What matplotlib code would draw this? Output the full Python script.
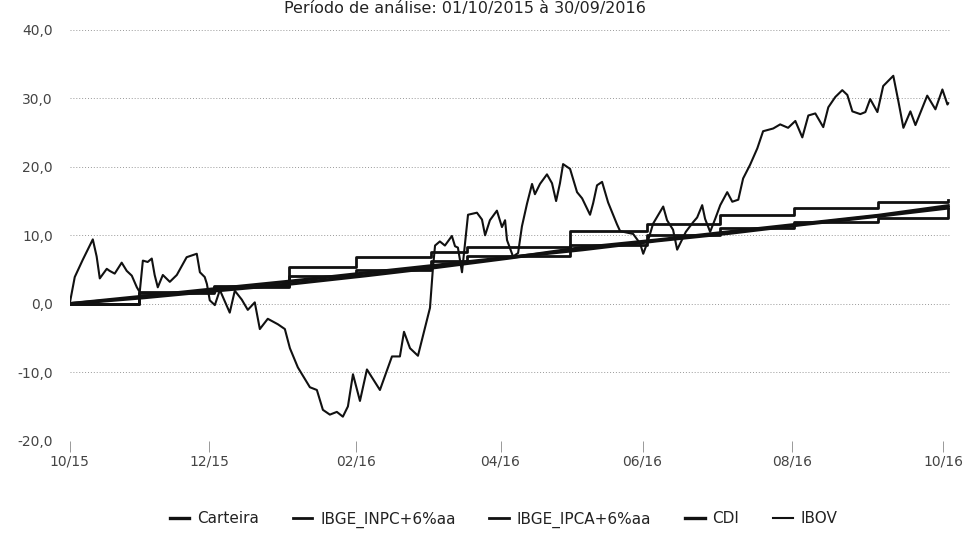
import numpy as np
import matplotlib.pyplot as plt

# dias desde 01/10/2015
ibov_dias = [0, 2.1, 5.4, 9.6, 11.2, 12.5, 15.4, 16.6, 18.7, 21.6, 23.7, 25.8, 27.9, 29.1,
             30.4, 32.4, 34.1, 35.3, 36.6, 38.7, 41.6, 44.5, 48.6, 52.8, 54.1, 56.1, 57,
             58.2, 60.3, 62.4, 64.4, 66.5, 68.6, 71.5, 74, 76.9, 79, 82.3, 86.5, 89.4,
             91.5, 94.8, 99.8, 102.7, 105.2, 108.1, 111, 113.5, 115.6, 117.7, 120.6,
             123.5, 128.9, 133.9, 137.2, 138.9, 141.4, 144.7, 149.7, 150.9, 151.8, 153.8,
             155.9, 158.8, 160.1, 161.3, 163, 165.5, 169.2, 171.3, 172.6, 174.6, 177.5,
             179.6, 180.9, 181.7, 184.2, 186.3, 187.9, 190, 192.1, 193.3, 195.4, 198.3,
             200.4, 202.1, 203.7, 205, 207.9, 210.8, 212.9, 216.2, 217.5, 219.1, 221.2,
             223.7, 227.4, 228.7, 234.1, 237, 238.3, 240.3, 242.4, 246.6, 248.2, 250.7,
             252.4, 256, 259, 260.7, 262.8, 264, 266.1, 268.2, 270.3, 273.2, 275.3,
             277.8, 279.8, 282.7, 285.7, 288.1, 292.3, 295.2, 298.5, 301.5, 304.4,
             306.9, 309.8, 313.1, 315.2, 318.1, 321, 323.1, 325.2, 328.5, 330.6, 332.6,
             335.6, 338, 342.2, 344.3, 346.4, 349.3, 351.4, 356.3, 359.7, 362.6, 364.7, 365]
ibov = [0, 3.9, 6.4, 9.4, 6.9, 3.7, 5.1, 4.8, 4.4, 6.0, 4.8, 4.1, 2.4, 1.7,
        6.3, 6.1, 6.6, 4.2, 2.4, 4.2, 3.2, 4.2, 6.8, 7.3, 4.6, 3.9, 2.9,
        0.5, -0.2, 2.0, 0.4, -1.3, 1.9, 0.6, -0.9, 0.2, -3.7, -2.2, -3.0, -3.7,
        -6.5, -9.3, -12.2, -12.6, -15.5, -16.2, -15.8, -16.5, -15.0, -10.3, -14.2,
        -9.6, -12.6, -7.7, -7.7, -4.1, -6.5, -7.6, -0.6, 5.1, 8.5, 9.1,
        8.5, 9.9, 8.4, 8.2, 4.6, 13.0, 13.3, 12.3, 10.0, 12.2, 13.6,
        11.2, 12.2, 9.3, 6.9, 7.4, 11.3, 14.6, 17.5, 16.0, 17.5, 18.9,
        17.6, 15.0, 17.6, 20.4, 19.7, 16.3, 15.4, 13.0, 14.7, 17.3, 17.8,
        14.8, 11.6, 10.6, 10.2, 8.8, 7.3, 9.2, 11.7, 14.2, 12.2, 10.8,
        7.9, 10.5, 11.9, 12.6, 14.4, 12.4, 10.5, 12.4, 14.4, 16.3, 14.9,
        15.2, 18.3, 20.3, 22.7, 25.2, 25.6, 26.2, 25.7, 26.7, 24.3,
        27.5, 27.8, 25.8, 28.7, 30.2, 31.2, 30.5, 28.1, 27.7, 28.0, 29.9,
        28.0, 31.8, 33.3, 29.6, 25.7, 28.1, 26.1, 30.4, 28.4, 31.3, 29.1, 29.3]

degrau_dias = [0, 29, 60, 91, 119, 150, 165, 208, 240, 270, 301, 336, 365]
inpc = [0.0, 1.7, 2.6, 5.4, 6.8, 7.6, 8.3, 10.6, 11.6, 12.9, 14.0, 14.8, 15.2]
ipca = [0.0, 1.5, 2.4, 4.0, 5.0, 6.2, 7.0, 8.6, 10.0, 11.0, 11.9, 12.5, 13.8]

mes_dias = [0, 31, 61, 92, 123, 152, 183, 213, 244, 274, 305, 336, 365]
cdi = [0.0, 1.1, 2.2, 3.3, 4.5, 5.6, 6.8, 7.9, 9.2, 10.3, 11.6, 12.8, 14.0]
carteira = [0.0, 0.9, 1.9, 2.9, 4.1, 5.3, 6.7, 8.2, 9.3, 10.5, 11.7, 12.9, 14.3]

tick_dias = [0, 58, 119, 179, 238, 300, 363]
tick_txt = ['10/15', '12/15', '02/16', '04/16', '06/16', '08/16', '10/16']
y_ticks = [-20, -10, 0, 10, 20, 30, 40]

cor = '#111111'

fig = plt.figure(figsize=(9.68, 5.44), dpi=100)
ax = fig.add_axes([0.072, 0.19, 0.91, 0.755])

ax.plot(mes_dias, carteira, color=cor, lw=2.4, label='Carteira')
ax.plot(degrau_dias, inpc, color=cor, lw=2.0, drawstyle='steps-post', label='IBGE_INPC+6%aa')
ax.plot(degrau_dias, ipca, color=cor, lw=2.0, drawstyle='steps-post', label='IBGE_IPCA+6%aa')
ax.plot(mes_dias, cdi, color=cor, lw=2.4, label='CDI')
ax.plot(ibov_dias, ibov, color=cor, lw=1.5, label='IBOV')

ax.set_xlim(0, 366)
ax.set_ylim(-20, 40)
ax.set_yticks(y_ticks)
ax.set_yticklabels([('%.1f' % v).replace('.', ',') for v in y_ticks])
ax.set_xticks(tick_dias)
ax.set_xticklabels(tick_txt)
ax.grid(axis='y', color='#999999', lw=0.7, linestyle=(0, (1, 2)))
for s in ax.spines.values():
    s.set_visible(False)
ax.tick_params(axis='y', length=0, pad=12, labelsize=10, labelcolor='#444444')
ax.tick_params(axis='x', length=8, width=0.7, color='#999999', pad=2, labelsize=10, labelcolor='#444444')

fig.text(0.48, 0.999, 'Período de análise: 01/10/2015 à 30/09/2016', ha='center', va='top',
         fontsize=11.5, color='#222222')

fig.legend(loc='center', bbox_to_anchor=(0.52, 0.045), ncol=5, frameon=False, fontsize=11,
           handlelength=1.3, columnspacing=2.2, handletextpad=0.5, labelcolor='#222222')

fig.savefig('out.png', dpi=100)
